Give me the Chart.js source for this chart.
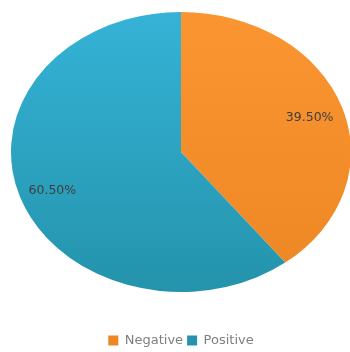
<!DOCTYPE html>
<html>
<head>
<meta charset="utf-8">
<script src="https://cdn.jsdelivr.net/npm/chart.js@4"></script>
<style>
  html, body { margin: 0; padding: 0; background: #fff; }
  #wrap { width: 350px; height: 352px; }
</style>
</head>
<body>
<div id="wrap"><canvas id="sentimentPie" width="350" height="352"></canvas></div>
<script>
var labels = ['Negative', 'Positive'];
var shares = [39.5, 60.5];
var topColors = ['#fa9532', '#35b3d7'];
var bottomColors = ['#ec8724', '#2493ab'];

// pie is drawn as a circle and squashed into an ellipse
var RX = 170, RY = 140, CX = 181, CY = 152;

function arcGradient(context) {
  var chart = context.chart;
  var area = chart.chartArea;
  var i = context.dataIndex;
  if (!area) return topColors[i];
  var cy = (area.top + area.bottom) / 2;
  var g = chart.ctx.createLinearGradient(0, cy - RX, 0, cy + RX);
  g.addColorStop(0, topColors[i]);
  g.addColorStop(1, bottomColors[i]);
  return g;
}

var ellipsePlugin = {
  id: 'ellipse',
  beforeDatasetsDraw: function (chart) {
    var arc = chart.getDatasetMeta(0).data[0];
    var ctx = chart.ctx;
    ctx.save();
    ctx.translate(CX, CY);
    ctx.scale(1, RY / RX);
    ctx.translate(-arc.x, -arc.y);
  },
  afterDatasetsDraw: function (chart) {
    var ctx = chart.ctx;
    ctx.restore();
    // percentage labels placed on the squashed arcs
    ctx.save();
    ctx.font = '12.5px "DejaVu Sans"';
    ctx.fillStyle = '#3f3f3f';
    ctx.textAlign = 'center';
    ctx.textBaseline = 'middle';
    chart.getDatasetMeta(0).data.forEach(function (el, i) {
      var mid = (el.startAngle + el.endAngle) / 2;
      var f = 0.8;
      var x = CX + RX * f * Math.cos(mid);
      var y = CY + RY * f * Math.sin(mid) + 2;
      ctx.fillText(shares[i].toFixed(2) + '%', x, y);
    });
    ctx.restore();
  }
};

new Chart(document.getElementById('sentimentPie').getContext('2d'), {
  type: 'pie',
  data: {
    labels: labels,
    datasets: [{
      data: shares,
      backgroundColor: arcGradient,
      borderWidth: 0
    }]
  },
  options: {
    responsive: false,
    animation: false,
    radius: RX,
    layout: { padding: { left: 12, bottom: -5 } },
    plugins: {
      tooltip: { enabled: false },
      legend: {
        position: 'bottom',
        labels: {
          boxWidth: 10,
          boxHeight: 10,
          padding: 4,
          color: '#7f7f7f',
          font: { family: 'DejaVu Sans', size: 13 }
        }
      }
    }
  },
  plugins: [ellipsePlugin]
});
</script>
</body>
</html>
